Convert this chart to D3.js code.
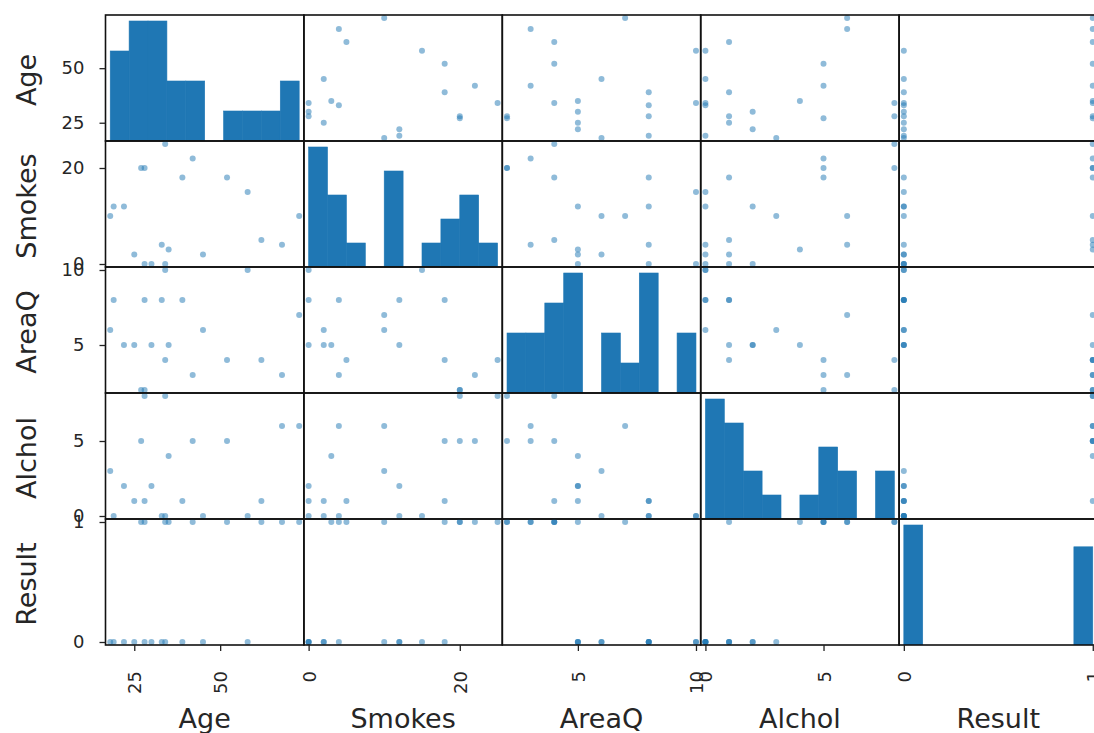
<!DOCTYPE html>
<html>
<head>
<meta charset="utf-8">
<script src="https://cdn.jsdelivr.net/npm/d3@7"></script>
<style>
body { margin: 0; background: #fff; }
text { font-family: "DejaVu Sans", sans-serif; fill: #262626; }
</style>
</head>
<body>
<div id="chart"></div>
<script>
// columns of the frame, one array per variable (20 rows)
const columns = ['Age', 'Smokes', 'AreaQ', 'Alchol', 'Result'];
const age    = [35, 27, 30, 28, 68, 34, 58, 22, 45, 52, 33, 18, 25, 28, 34, 39, 42, 19, 62, 73];
const smokes = [3, 20, 0, 0, 4, 0, 15, 12, 2, 18, 4, 10, 2, 20, 25, 18, 22, 12, 5, 10];
const areaQ  = [5, 2, 5, 8, 3, 10, 10, 5, 6, 4, 8, 6, 5, 2, 4, 8, 3, 8, 4, 7];
const alchol = [4, 5, 2, 1, 6, 0, 0, 2, 0, 5, 0, 3, 1, 8, 8, 1, 5, 0, 1, 6];
const result = [1, 1, 0, 0, 1, 0, 0, 0, 0, 1, 0, 0, 0, 1, 1, 0, 1, 0, 1, 1];
const tickVals = [[25, 50], [0, 20], [5, 10], [0, 5], [0, 1]];

const values = [age, smokes, areaQ, alchol, result];

let w = 1094;
let h = 733;
let x0 = 105.5, y0 = 15;
let cw = 198.4, ch = 126;
let n = columns.length;
let blue = '#1f77b4';

let svg = d3.select('#chart')
    .append('svg')
    .attr('width', w)
    .attr('height', h);

// one x scale and one y scale per variable, 2.5% padding like pandas
let xs = [], ys = [];
values.forEach((v, i) => {
    let mn = d3.min(v), mx = d3.max(v);
    let pad = (mx - mn) * 0.025;
    xs.push(d3.scaleLinear().domain([mn - pad, mx + pad]).range([x0 + i * cw, x0 + (i + 1) * cw]));
    ys.push(d3.scaleLinear().domain([mn - pad, mx + pad]).range([y0 + (i + 1) * ch, y0 + i * ch]));
});

let defs = svg.append('defs');

for (let r = 0; r < n; r++) {
    for (let c = 0; c < n; c++) {
        let cx = x0 + c * cw, cy = y0 + r * ch;
        let id = 'clip' + r + '_' + c;
        defs.append('clipPath').attr('id', id)
            .append('rect').attr('x', cx).attr('y', cy).attr('width', cw).attr('height', ch);
        let g = svg.append('g').attr('clip-path', 'url(#' + id + ')');

        if (r === c) {
            let v = values[c];
            let mn = d3.min(v), mx = d3.max(v);
            let step = (mx - mn) / 10;
            let bins = d3.bin()
                .domain([mn, mx])
                .thresholds(d3.range(1, 10).map(k => mn + k * step))(v);
            let cnt = d3.scaleLinear()
                .domain([0, d3.max(bins, b => b.length) * 1.05])
                .range([cy + ch, cy]);
            g.selectAll('rect')
                .data(bins.filter(b => b.length > 0))
                .enter()
                .append('rect')
                .attr('x', b => xs[c](b.x0))
                .attr('width', b => xs[c](b.x1) - xs[c](b.x0))
                .attr('y', b => cnt(b.length))
                .attr('height', b => cy + ch - cnt(b.length))
                .attr('fill', blue)
                .attr('stroke', blue)
                .attr('stroke-width', 0.6);
        } else {
            g.selectAll('circle')
                .data(d3.range(age.length))
                .enter()
                .append('circle')
                .attr('cx', k => xs[c](values[c][k]))
                .attr('cy', k => ys[r](values[r][k]))
                .attr('r', 3)
                .attr('fill', blue)
                .attr('opacity', 0.5);
        }

        svg.append('rect')
            .attr('x', cx).attr('y', cy)
            .attr('width', cw).attr('height', ch)
            .attr('fill', 'none')
            .attr('stroke', '#111')
            .attr('stroke-width', 1.6);
    }
}

// y axes on the left column
for (let r = 0; r < n; r++) {
    let ax = svg.append('g').attr('transform', 'translate(' + x0 + ',0)');
    ax.call(d3.axisLeft(ys[r]).tickValues(tickVals[r]).tickSize(6).tickPadding(15).tickFormat(d3.format('d')));
    ax.select('.domain').remove();
    ax.selectAll('line').attr('stroke', '#222').attr('stroke-width', 1.3);
    ax.selectAll('text').attr('font-size', 18).attr('fill', '#262626');

    svg.append('text')
        .attr('transform', 'translate(26,' + (y0 + r * ch + ch / 2 + 2) + ') rotate(-90)')
        .attr('text-anchor', 'middle')
        .attr('dominant-baseline', 'central')
        .attr('font-size', 27)
        .text(columns[r]);
}

// x axes on the bottom row, labels turned upright
let yb = y0 + n * ch;
for (let c = 0; c < n; c++) {
    let ax = svg.append('g').attr('transform', 'translate(0,' + yb + ')');
    ax.call(d3.axisBottom(xs[c]).tickValues(tickVals[c]).tickSize(6).tickFormat(d3.format('d')));
    ax.select('.domain').remove();
    ax.selectAll('line').attr('stroke', '#222').attr('stroke-width', 1.3);
    ax.selectAll('text')
        .attr('font-size', 18)
        .attr('fill', '#262626')
        .attr('y', 0).attr('dy', null)
        .attr('transform', 'translate(0,26) rotate(-90)')
        .attr('text-anchor', 'end')
        .attr('dominant-baseline', 'central');

    svg.append('text')
        .attr('x', x0 + c * cw + cw / 2)
        .attr('y', 728)
        .attr('text-anchor', 'middle')
        .attr('font-size', 27)
        .text(columns[c]);
}
</script>
</body>
</html>
